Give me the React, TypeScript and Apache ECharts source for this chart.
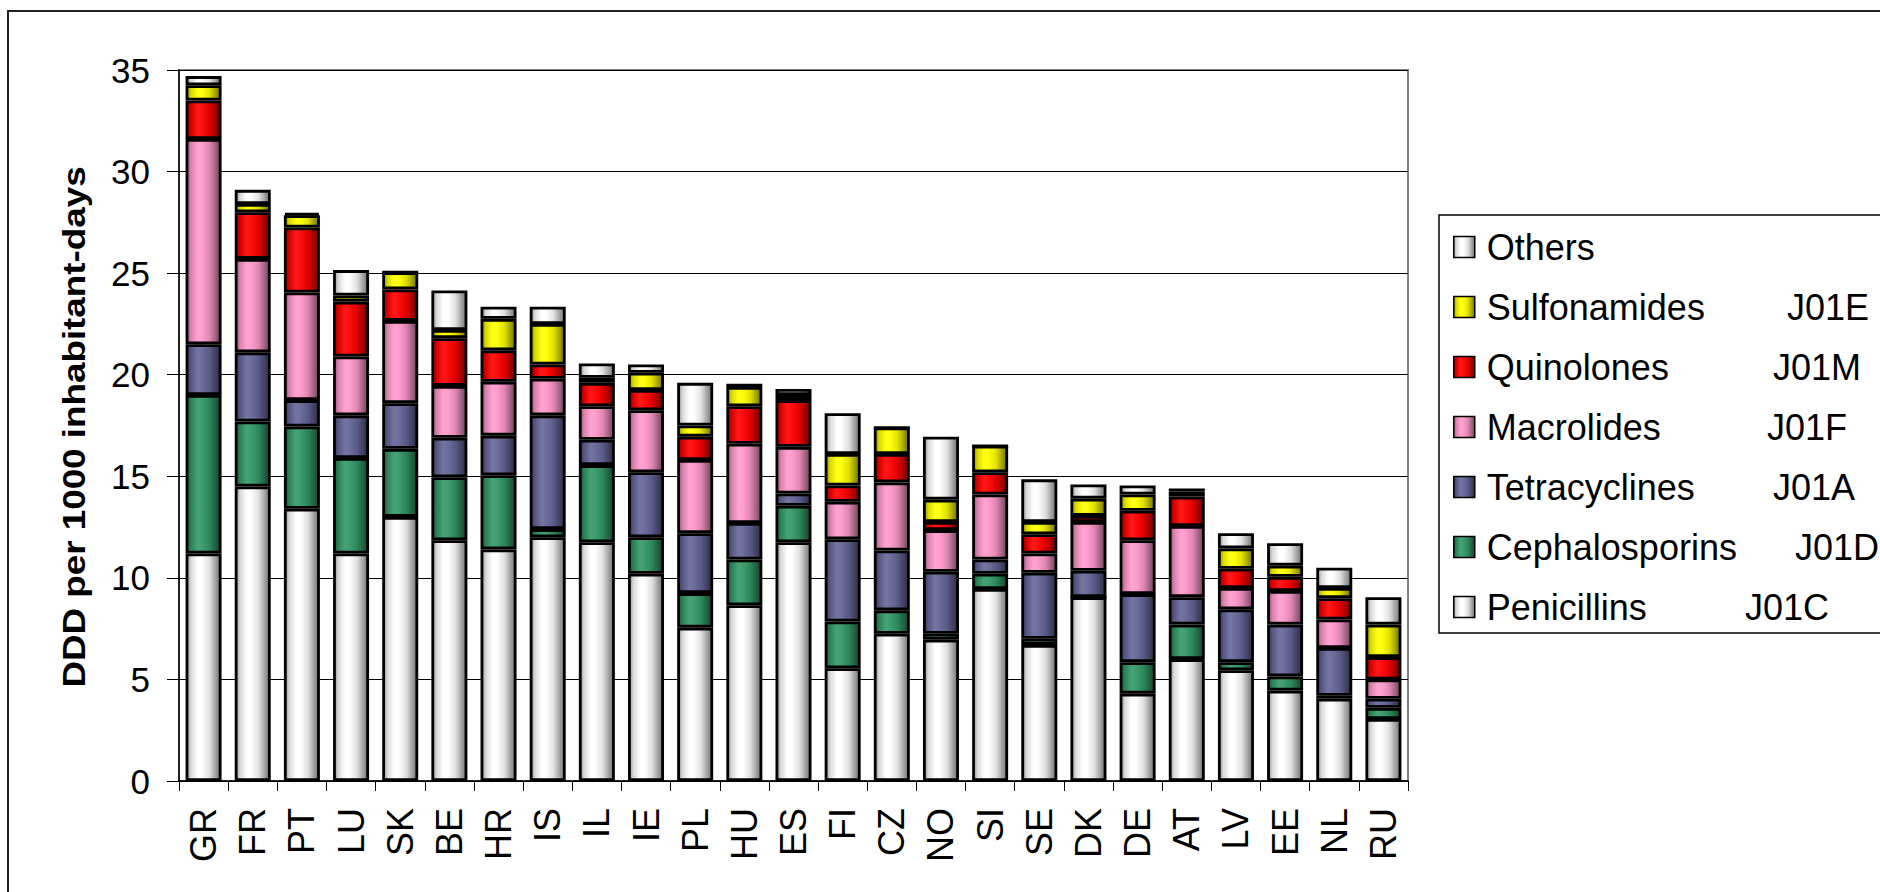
import React, { useEffect, useRef } from 'react';
import * as echarts from 'echarts';

const countries = ['GR', 'FR', 'PT', 'LU', 'SK', 'BE', 'HR', 'IS', 'IL', 'IE', 'PL', 'HU', 'ES', 'FI', 'CZ', 'NO', 'SI', 'SE', 'DK', 'DE', 'AT', 'LV', 'EE', 'NL', 'RU'];

const penicillins = [11.2, 14.5, 13.4, 11.2, 13.0, 11.85, 11.4, 12.0, 11.75, 10.2, 7.55, 8.65, 11.75, 5.55, 7.25, 6.95, 9.45, 6.7, 9.05, 4.3, 6.0, 5.45, 4.45, 4.05, 3.05];
const cephalosporins = [7.8, 3.2, 4.05, 4.7, 3.35, 3.1, 3.65, 0.4, 3.8, 1.8, 1.7, 2.25, 1.8, 2.3, 1.15, 0.3, 0.75, 0.3, 0.0, 1.55, 1.7, 0.4, 0.7, 0.15, 0.55];
const tetracyclines = [2.5, 3.4, 1.3, 2.1, 2.25, 1.95, 1.95, 5.6, 1.25, 3.2, 2.95, 1.8, 0.6, 4.05, 2.95, 3.05, 0.7, 3.25, 1.3, 3.35, 1.35, 2.6, 2.55, 2.35, 0.45];
const macrolides = [10.1, 4.6, 5.3, 2.9, 4.05, 2.55, 2.65, 1.8, 1.65, 3.05, 3.6, 3.9, 2.3, 1.85, 3.35, 2.05, 3.2, 0.95, 2.4, 2.65, 3.5, 1.05, 1.65, 1.4, 0.95];
const quinolones = [1.9, 2.3, 3.2, 2.7, 1.55, 2.35, 1.55, 0.7, 1.15, 1.0, 1.15, 1.85, 2.3, 0.8, 1.4, 0.4, 1.1, 0.95, 0.3, 1.45, 1.45, 0.95, 0.7, 1.05, 1.1];
const sulfonamides = [0.75, 0.4, 0.6, 0.3, 0.85, 0.4, 1.55, 2.0, 0.25, 0.85, 0.55, 0.95, 0.25, 1.55, 1.3, 1.1, 1.3, 0.6, 0.85, 0.8, 0.25, 1.0, 0.55, 0.5, 1.6];
const others = [0.45, 0.7, 0.1, 1.25, 0, 1.95, 0.6, 0.85, 0.7, 0.4, 2.1, 0.15, 0.3, 2.0, 0, 3.1, 0, 2.1, 0.7, 0.45, 0.15, 0.75, 1.1, 1.0, 1.35];

const seriesNames = ['Penicillins', 'Cephalosporins', 'Tetracyclines', 'Macrolides', 'Quinolones', 'Sulfonamides', 'Others'];
const seriesCodes = ['J01C', 'J01D', 'J01A', 'J01F', 'J01M', 'J01E', ''];
const seriesColors = ['#FFFFFF', '#339966', '#666699', '#FF99CC', '#FF0000', '#FFFF00', '#FFFFFF'];

const yTitle = 'DDD per 1000 inhabitant-days';

const FONT = '"Liberation Sans", Arial, Helvetica, sans-serif';

function hexToRgb(h: string): number[] {
  const s = h.replace('#', '');
  return [parseInt(s.slice(0, 2), 16), parseInt(s.slice(2, 4), 16), parseInt(s.slice(4, 6), 16)];
}
function mix(h: string, target: number[], t: number): string {
  const c = hexToRgb(h);
  const r = c.map((v, i) => Math.round(v * (1 - t) + target[i] * t));
  return `rgb(${r[0]},${r[1]},${r[2]})`;
}
function grad(h: string) {
  const k = [0, 0, 0];
  const w = [255, 255, 255];
  return {
    type: 'linear', x: 0, y: 0, x2: 1, y2: 0,
    colorStops: [
      { offset: 0, color: mix(h, k, 0.42) },
      { offset: 0.12, color: mix(h, k, 0.15) },
      { offset: 0.32, color: mix(h, w, 0.1) },
      { offset: 0.45, color: mix(h, w, 0.05) },
      { offset: 0.68, color: mix(h, k, 0.12) },
      { offset: 1, color: mix(h, k, 0.55) },
    ],
  };
}

// horizontal position of each code in the legend (layout only)
const codeLeft: Record<string, number> = {
  Sulfonamides: 1787, Quinolones: 1773, Macrolides: 1767, Tetracyclines: 1773, Cephalosporins: 1795, Penicillins: 1745,
};

export default function App() {
  const ref = useRef<HTMLDivElement>(null);
  useEffect(() => {
    if (!ref.current) return;
    const chart = echarts.init(ref.current, null, { renderer: 'svg' });
    const values = [penicillins, cephalosporins, tetracyclines, macrolides, quinolones, sulfonamides, others];
    const series = seriesNames.map((name, i) => ({
      name,
      type: 'bar',
      stack: 'total',
      data: values[i],
      barWidth: 36,
      itemStyle: { color: grad(seriesColors[i]), borderColor: '#000', borderWidth: 2.8 },
      emphasis: { disabled: true },
    }));
    const legendOrder = [...seriesNames].reverse();
    const codeTexts = legendOrder
      .map((name, k) => {
        const idx = seriesNames.indexOf(name);
        const code = seriesCodes[idx];
        if (!code) return null;
        return {
          type: 'text',
          x: codeLeft[name],
          y: 247.5 + 60 * k,
          z: 10,
          style: { text: code, fontSize: 36, fontFamily: FONT, fill: '#000', align: 'left', verticalAlign: 'middle' },
        };
      })
      .filter(Boolean);

    chart.setOption({
      animation: false,
      backgroundColor: '#fff',
      grid: {
        left: 179, right: 472, top: 70, bottom: 111,
        show: true, borderColor: '#808080', borderWidth: 2, backgroundColor: '#fff',
      },
      xAxis: {
        type: 'category',
        data: countries,
        axisLine: { show: true, lineStyle: { color: '#000', width: 1.5 } },
        axisTick: { show: true, length: 10, interval: 0, lineStyle: { color: '#000', width: 1 } },
        axisLabel: { rotate: 90, margin: 27, fontSize: 36, color: '#000', fontFamily: FONT, interval: 0 },
      },
      yAxis: {
        type: 'value',
        min: 0, max: 35, interval: 5,
        axisLine: { show: true, lineStyle: { color: '#000', width: 1.5 } },
        axisTick: { show: true, length: 12, lineStyle: { color: '#000', width: 1 } },
        axisLabel: { margin: 29, fontSize: 35, color: '#000', fontFamily: FONT },
        splitLine: { show: true, lineStyle: { color: '#000', width: 1 } },
      },
      legend: {
        orient: 'vertical',
        left: 1453, top: 227,
        itemWidth: 21, itemHeight: 21, itemGap: 20,
        padding: 0,
        icon: 'rect',
        selectedMode: false,
        data: legendOrder,
        itemStyle: { borderColor: '#000', borderWidth: 1.5 },
        textStyle: { fontSize: 36, lineHeight: 40, color: '#000', fontFamily: FONT, padding: [0, 0, 0, 7] },
      },
      graphic: [
        {
          type: 'rect', z: -10, silent: true,
          shape: { x: 8, y: 11, width: 2000, height: 1000 },
          style: { fill: 'none', stroke: '#222', lineWidth: 2 },
        },
        {
          type: 'rect', z: 1, silent: true,
          shape: { x: 1439, y: 215, width: 600, height: 418 },
          style: { fill: 'none', stroke: '#000', lineWidth: 1.5 },
        },
        {
          type: 'text', x: 74, y: 427, rotation: Math.PI / 2, scaleX: 1.15, z: 10,
          style: { text: yTitle, fontSize: 32, fontWeight: 'bold', fontFamily: FONT, fill: '#000', align: 'center', verticalAlign: 'middle' },
        },
        ...codeTexts,
      ],
      series,
    });
    return () => chart.dispose();
  }, []);
  return <div ref={ref} style={{ position: 'absolute', left: 0, top: 0, width: 1880, height: 892 }} />;
}
